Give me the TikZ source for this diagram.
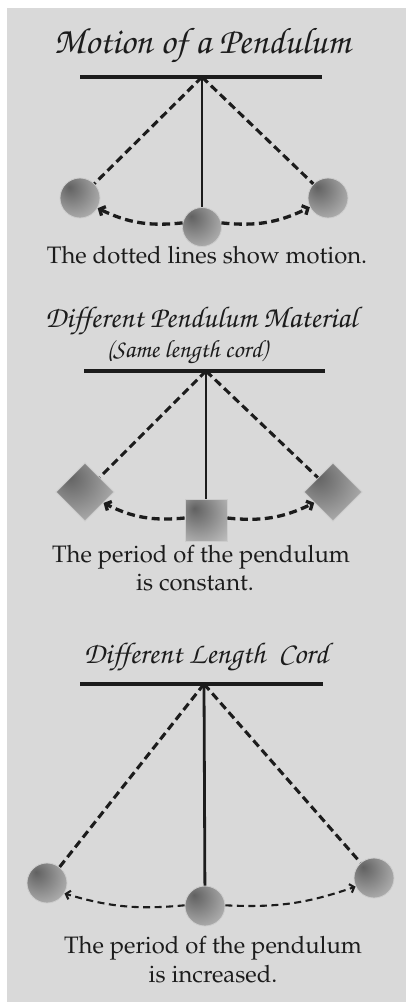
\documentclass[tikz,border=0pt]{standalone}
\usepackage[T1]{fontenc}
\usetikzlibrary{arrows.meta}
\definecolor{bg}{HTML}{D9D9D9}
\definecolor{ink}{HTML}{1C1C1C}
\pgfdeclareradialshading{bobshade}{\pgfpoint{-14bp}{14bp}}{color(0bp)=(black!62); color(14bp)=(black!50); color(42bp)=(black!25); color(64bp)=(black!10)}
\newcommand\titfont[1]{\fontfamily{pzc}\fontseries{mb}\fontshape{it}\fontsize{#1}{#1}\selectfont}
\newcommand\capfont{\fontfamily{ppl}\fontseries{m}\fontshape{n}\fontsize{23.8}{28}\selectfont}
\begin{document}
\begin{tikzpicture}[x=1pt,y=1pt,
  ball/.style={circle, draw=black!20, line width=0.8pt, shading=bobshade, minimum size=40pt, inner sep=0pt},
  block/.style={rectangle, draw=black!20, line width=0.8pt, shading=bobshade, minimum size=41pt, inner sep=0pt},
  bar/.style={line width=3.6pt, draw=ink},
  rod/.style={line width=2.8pt, draw=ink},
  cord/.style={line width=3.1pt, draw=ink, dash pattern=on 8pt off 4.5pt},
  swing/.style={line width=3.3pt, draw=ink, dash pattern=on 8pt off 4.5pt, -{Straight Barb[length=4.5pt,width=10pt]}},
  thinswing/.style={line width=2.1pt, draw=ink, dash pattern=on 7pt off 4.5pt, -{Straight Barb[length=4pt,width=9pt]}},
  title/.style={text=ink, anchor=base, inner sep=0pt},
  caption/.style={font=\capfont, text=ink, anchor=base, inner sep=0pt},
]
\useasboundingbox (0,0) rectangle (406,-1002);
\fill[white] (0,0) rectangle (406,-1002);
\fill[bg] (7,-8) rectangle (406,-1002);

% ---------- Section 1 ----------
\node[title, font=\titfont{37}] (t1) at (202,-53) {Motion of a Pendulum};
\coordinate (b1l) at (80,-77);
\coordinate (b1r) at (322,-77);
\coordinate (p1) at (202,-77);
\draw[bar] (b1l) -- (b1r);
\node[ball] (l1) at (80,-198) {};
\node[ball, minimum size=39pt] (c1) at (202,-227) {};
\node[ball] (r1) at (328,-198) {};
\draw[rod] (p1) -- (c1);
\draw[cord] (p1) -- (l1);
\draw[cord] (p1) -- (r1);
\draw[swing] (c1.168) to[bend left=16] (l1.-30);
\draw[swing] (c1.12) to[bend right=16] (r1.207);
\node[caption] (k1) at (207,-263) {The dotted lines show motion.};

% ---------- Section 2 ----------
\node[title, font=\titfont{30}] (t2) at (201,-327) {Different Pendulum Material};
\node[title, font=\titfont{25}] (s2) at (187,-357) {(Same length cord)};
\coordinate (b2l) at (84,-371);
\coordinate (b2r) at (325,-371);
\coordinate (p2) at (206,-371);
\draw[bar] (b2l) -- (b2r);
\node[block, rotate=-45] (l2) at (85,-492) {};
\node[block, minimum size=42pt] (c2) at (206,-520) {};
\node[block, rotate=45] (r2) at (333,-492) {};
\draw[rod] (p2) -- (c2);
\draw[cord] (p2) -- (l2);
\draw[cord] (p2) -- (r2);
\draw[swing] ([yshift=2pt]c2.west) to[bend left=16] (l2);
\draw[swing] ([yshift=2pt]c2.east) to[bend right=16] (r2);
\node[caption] (k2a) at (201,-562) {The period of the pendulum};
\node[caption] (k2b) at (195,-590) {is constant.};

% ---------- Section 3 ----------
\node[title, font=\titfont{30}] (t3) at (206,-663) {Different Length\ \ Cord};
\coordinate (b3l) at (80,-684);
\coordinate (b3r) at (323,-684);
\coordinate (p3) at (204,-684);
\draw[bar] (b3l) -- (b3r);
\node[ball] (l3) at (47,-883) {};
\node[ball] (c3) at (205,-906) {};
\node[ball] (r3) at (374,-878) {};
\draw[rod] (p3) -- (c3);
\draw[cord] (p3) -- (l3);
\draw[cord] (p3) -- (r3);
\draw[thinswing] (c3.178) to[bend left=11] (l3.-31);
\draw[thinswing] (c3.2) to[bend right=11] (r3.205);
\node[caption] (k3a) at (213,-953) {The period of the pendulum};
\node[caption] (k3b) at (213,-982) {is increased.};
\end{tikzpicture}
\end{document}
